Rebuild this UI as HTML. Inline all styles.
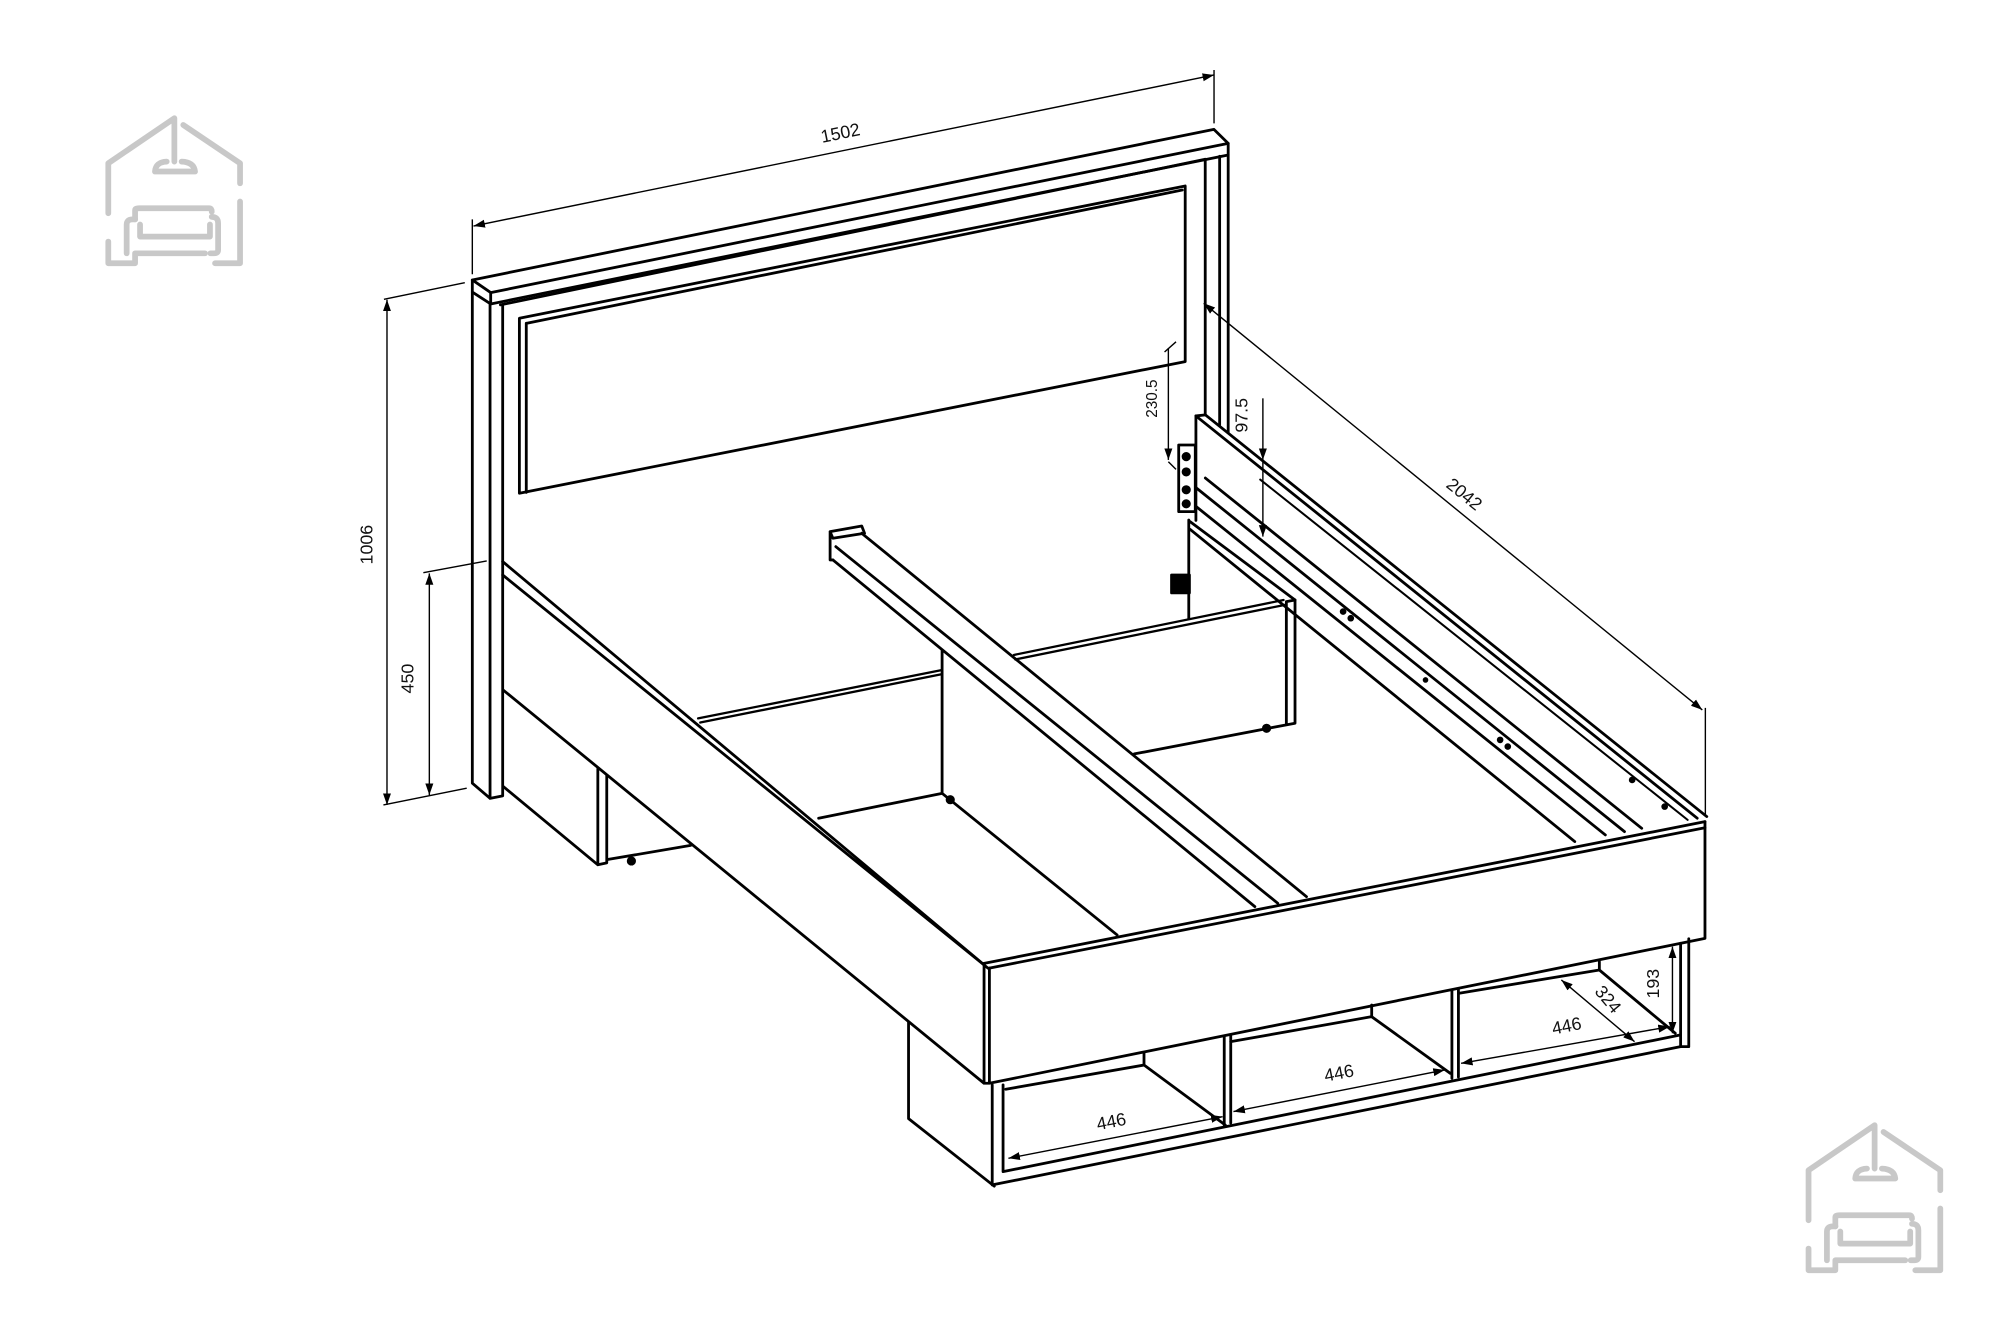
<!DOCTYPE html>
<html><head><meta charset="utf-8"><style>
html,body{margin:0;padding:0;background:#fff;}
svg{display:block;}
text{font-family:"Liberation Sans",sans-serif;font-size:14px;fill:#111;}
</style></head><body>
<svg width="2000" height="1327" viewBox="0 0 1568 1040.4" preserveAspectRatio="none" xmlns="http://www.w3.org/2000/svg">
<defs>
<marker id="a" viewBox="0 0 10 10" refX="10" refY="5" markerWidth="9" markerHeight="9" orient="auto-start-reverse" markerUnits="userSpaceOnUse"><path d="M0,1.5 L10,5 L0,8.5 z" fill="#000"/></marker>
<g id="logo" fill="none" stroke="#c8c8c8" stroke-width="4.5" stroke-linecap="round" stroke-linejoin="round">
 <path d="M84.9,167.2 V128 L136.7,92.7 V126.7"/>
 <path d="M143.7,98 L188.2,128 V143.7"/>
 <path d="M188.2,158 V206.4 H168.6"/>
 <path d="M84.9,189.4 V206.4 H105.9 V198.6 H160.7"/>
 <path d="M121.5,134.5 Q122,127 130.7,126.7 M142.4,126.7 Q152,127 152.9,134.5 H121.5"/>
 <path d="M105.9,172 V165 Q105.9,163.3 109,163.3 H164 Q166,163.3 166,166"/>
 <path d="M99.3,198.6 V176 Q99.3,172 104,172 H106"/>
 <path d="M109.8,176 V185.5 H164.6 V176"/>
 <path d="M166,170 Q171,170 171,175 V196 Q171,198.6 168,198.6 H165"/>
</g>
</defs>
<rect width="1568" height="1040.4" fill="#fff"/>
<use href="#logo"/>
<use href="#logo" transform="translate(1333,789.5)"/>
<g fill="none" stroke="#000" stroke-width="2.2" stroke-linejoin="round" stroke-linecap="round">
 <!-- headboard cap -->
 <path d="M370.3,219.5 L951.7,101.4 L962.9,112.4 L384.7,229.4 Z"/>
 <path d="M370.3,219.5 V229 L384.7,238.3 L962.9,121.5 V112.4 M384.7,229.4 V238.3"/>
 <!-- left post -->
 <path d="M370.3,229 V614 L384.2,625.9 L394.1,624 V239 M384.2,238.3 V625.9"/>
 <path d="M392.3,239 L944.9,124.9"/>
 <!-- right post -->
 <path d="M944.9,124.9 V325 M956.2,122.5 V333 M962.9,121.5 V339"/>
 <!-- panel -->
 <path d="M407.2,249.5 L929.2,145.8 V283.5 L407.2,386.7 Z"/>
 <path d="M412.6,253.5 L926.9,149 M412.6,253.5 V386"/>
 <!-- left rail -->
 <path d="M394.1,440.3 L770,755.2 M394.1,450.8 L774.6,759.1"/>
 <path d="M394.5,541 L771.1,849"/>
 <path d="M394.5,616.6 L468.7,678 M468.7,602.6 V678 L475.7,676.5 V608 M475.7,674 L541.5,662.8"/>
 <!-- left under box -->
 <path d="M712.3,801.4 V877 L779.5,930"/>
 <!-- back panels -->
 <path d="M547.3,563.2 L738.6,525.3 M549,566.5 L738.6,528.5" stroke-width="1.8"/>
 <path d="M738.6,509.6 V622 L641.8,641.5 M738.6,622 L875.8,733"/>
 <path d="M794.8,513.5 L1006.3,470.4 M796,517 L1008.5,474" stroke-width="1.8"/>
 <path d="M1008.5,471.7 V567 M1015.3,470.4 V567 L889.3,591.1 M1008.5,471.7 L1015.3,470.4"/>
 <circle cx="993" cy="571" r="2.5" fill="#000"/>
 <circle cx="745" cy="627" r="2.5" fill="#000"/>
 <circle cx="495" cy="675" r="2.5" fill="#000"/>
 <!-- center beam -->
 <path d="M655.3,428.6 L1001.8,708.2 M675.6,418.1 L1024.3,703 M653,439 L983.8,710.8"/>
 <path d="M650.8,416.8 L675.6,412.4 L677.8,418.1 L653,422 Z M650.8,416.8 V439 L653,439"/>
 <!-- right inner back / hinge area -->
 <path d="M932,407.7 V484.8"/>
 <path d="M933,409 L1015.3,470.4 M933,415 L1234.6,659.8"/>
 <rect x="918.5" y="450.8" width="14" height="14" fill="#000"/>
 <path d="M937.6,326.1 V408"/>
 <rect x="924.1" y="348.9" width="13" height="52.2"/>
 <circle cx="930" cy="358" r="2.5" fill="#000"/><circle cx="930" cy="370" r="2.5" fill="#000"/><circle cx="930" cy="384" r="2.5" fill="#000"/><circle cx="930" cy="395" r="2.5" fill="#000"/>
 <!-- right rail lines -->
 <path d="M937.6,326.1 L1330.6,641.5 M945.1,325.3 L1338.1,640.2"/>
 <path d="M937.6,397 L1258.6,654.6 M937.6,382.3 L1273.6,652 M945,374.8 L1287.1,649.4 M937.6,326.1 L945.1,325.3"/>
 <path d="M988,376 L1323.1,642.8" stroke-width="1.6"/>
 <!-- front rail -->
 <path d="M771.5,755.3 L1336.7,644.2 M775.7,759 L1336.7,649"/>
 <path d="M771.5,755.3 V849.3 L775.7,849.3 M775.7,759 V849.3 L1336.7,735.7 V644.2"/>
 <!-- storage under front -->
 <path d="M777.9,850.6 V929 L1317.6,820.6 V739.6 M786.4,850.6 V918.6 L1317.6,811.4 M1324,736 V820.6 L1317.6,820.6"/>
 <path d="M959.8,812.7 V882 M964.9,811.7 V880.5"/>
 <path d="M1138.3,776.2 V845.4 M1143.4,775.2 V844.4"/>
 <path d="M788.5,854 L896.9,835 L960.6,882 M896.9,825.8 V835"/>
 <path d="M964.9,816.7 L1075.4,797.1 L1137,841.5 M1075.4,788 V797.1"/>
 <path d="M1143.4,778.8 L1253.9,760.5 L1313.4,810.1 M1253.9,754 V760.5"/>
</g>
<g fill="#000">
 <circle cx="1053" cy="479.5" r="2.6"/><circle cx="1059" cy="484.7" r="2.6"/><circle cx="1117.6" cy="533.1" r="2.2"/>
 <circle cx="1176.1" cy="580.1" r="2.6"/><circle cx="1182.1" cy="585.3" r="2.6"/><circle cx="1279.6" cy="611.5" r="2.6"/><circle cx="1305.1" cy="632.4" r="2.6"/>
</g>
<!-- dimensions -->
<g fill="none" stroke="#000" stroke-width="1.1">
 <path d="M371.2,177.2 L951.8,58.8" marker-start="url(#a)" marker-end="url(#a)"/>
 <path d="M370.3,172 V215 M951.8,54.9 V96.7"/>
 <path d="M303.4,235 V631" marker-start="url(#a)" marker-end="url(#a)"/>
 <path d="M301,234.7 L364.4,221.6 M300.6,631.1 L365.9,618"/>
 <path d="M336.6,449.5 V623.3" marker-start="url(#a)" marker-end="url(#a)"/>
 <path d="M331.9,449 L381.6,439.8"/>
 <path d="M943.7,237.8 L1334.6,556.6" marker-start="url(#a)" marker-end="url(#a)"/>
 <path d="M1337,555 V640"/>
 <path d="M916,273 V360.6" marker-end="url(#a)"/>
 <path d="M913,276 L922,268 M916,362 L922,368"/>
 <path d="M990.1,312.3 V360.6" marker-end="url(#a)"/>
 <path d="M990.1,360.6 V420.7" marker-end="url(#a)"/>
 <path d="M790.6,908.1 L958.5,875.5" marker-start="url(#a)" marker-end="url(#a)"/>
 <path d="M967,871.5 L1132.7,838.9" marker-start="url(#a)" marker-end="url(#a)"/>
 <path d="M1145.5,833.7 L1309.1,804.9" marker-start="url(#a)" marker-end="url(#a)"/>
 <path d="M1224.1,768.3 L1281.5,816.7" marker-start="url(#a)" marker-end="url(#a)"/>
 <path d="M1311.2,742.2 V810.1" marker-start="url(#a)" marker-end="url(#a)"/>
</g>
<text x="659" y="109" transform="rotate(-11.5 659 105)" text-anchor="middle">1502</text>
<text x="297" y="432" transform="rotate(-90 292 432)" text-anchor="middle">1006</text>
<text x="329" y="537" transform="rotate(-90 324 537)" text-anchor="middle">450</text>
<text x="1147.6" y="392" transform="rotate(39 1147.6 388)" text-anchor="middle">2042</text>
<text x="912" y="317.5" transform="rotate(-90 907 317.5)" text-anchor="middle" style="font-size:12px">230.5</text>
<text x="983" y="330.6" transform="rotate(-90 978 330.6)" text-anchor="middle">97.5</text>
<text x="871.4" y="884" transform="rotate(-11 871.4 880)" text-anchor="middle">446</text>
<text x="1049.9" y="846" transform="rotate(-11 1049.9 842)" text-anchor="middle">446</text>
<text x="1228.4" y="809" transform="rotate(-11 1228.4 805)" text-anchor="middle">446</text>
<text x="1260.2" y="788" transform="rotate(50 1260.2 784)" text-anchor="middle">324</text>
<text x="1305.6" y="776.2" transform="rotate(-90 1300.6 776.2)" text-anchor="middle">193</text>
</svg>
</body></html>
